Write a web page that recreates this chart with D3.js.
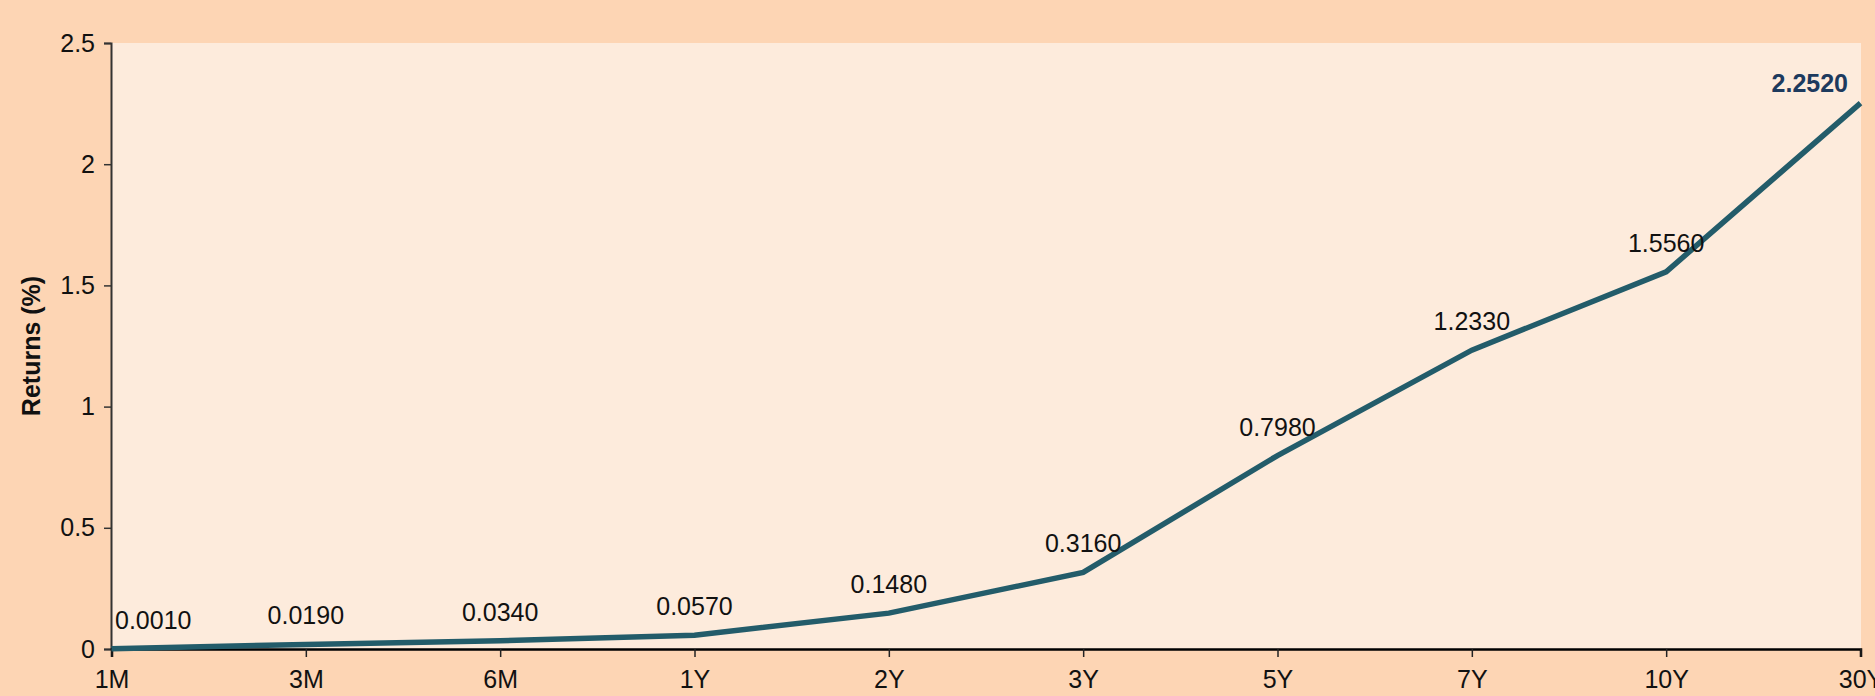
<!DOCTYPE html>
<html>
<head>
<meta charset="utf-8">
<script src="https://cdn.jsdelivr.net/npm/d3@7"></script>
<style>
  html, body { margin: 0; padding: 0; background: #fdd5b4; }
  svg { display: block; font-family: "Liberation Sans", Arial, sans-serif; }
</style>
</head>
<body>
<svg id="chart" width="1875" height="696"></svg>
<script>
// Yield curve: tenors and returns (%)
const tenors = ["1M", "3M", "6M", "1Y", "2Y", "3Y", "5Y", "7Y", "10Y", "30Y"];
const returns = [0.0010, 0.0190, 0.0340, 0.0570, 0.1480, 0.3160, 0.7980, 1.2330, 1.5560, 2.2520];
const yTicks = [0, 0.5, 1, 1.5, 2, 2.5];
const yTickLabels = ["0", "0.5", "1", "1.5", "2", "2.5"];
const yTitle = "Returns (%)";

const W = 1875, H = 696;
const margin = { top: 43, right: 14, bottom: 47, left: 111 };
const innerW = W - margin.left - margin.right;
const innerH = H - margin.top - margin.bottom;

const svg = d3.select("#chart");
svg.append("rect").attr("width", W).attr("height", H).attr("fill", "#fdd5b4");

const g = svg.append("g").attr("transform", `translate(${margin.left},${margin.top})`);

g.append("rect")
  .attr("width", innerW).attr("height", innerH)
  .attr("fill", "#fdebdc");

const x = d3.scalePoint().domain(tenors).range([0.5, innerW - 0.5]).padding(0);
const y = d3.scaleLinear().domain([0, 2.5]).range([innerH, 0]);

// Y axis
const yAxis = g.append("g")
  .call(d3.axisLeft(y).tickValues(yTicks)
    .tickFormat((d, i) => yTickLabels[i]).tickSizeOuter(0).tickSize(7).tickPadding(9));
yAxis.select(".domain").attr("stroke", "#333").attr("stroke-width", 2);
yAxis.selectAll(".tick line").attr("stroke", "#333").attr("stroke-width", 1.5);
yAxis.selectAll("text").attr("font-size", 25).attr("fill", "#111")
  .attr("font-family", "Liberation Sans, Arial, sans-serif");

// X axis
const xAxis = g.append("g")
  .attr("transform", `translate(0,${innerH})`)
  .call(d3.axisBottom(x).tickSizeOuter(0).tickSize(8).tickPadding(13));
xAxis.select(".domain").attr("stroke", "#000").attr("stroke-width", 2.5);
xAxis.selectAll(".tick line").attr("stroke", "#222").attr("stroke-width", 1.5);
xAxis.selectAll("text").attr("font-size", 25).attr("fill", "#111")
  .attr("font-family", "Liberation Sans, Arial, sans-serif");

// Axis title
svg.append("text")
  .attr("transform", `translate(40,${margin.top + innerH / 2}) rotate(-90)`)
  .attr("text-anchor", "middle")
  .attr("font-size", 25).attr("font-weight", "bold").attr("fill", "#111")
  .text(yTitle);

// Line
const line = d3.line()
  .x((d, i) => x(tenors[i]))
  .y(d => y(d));

g.append("path")
  .datum(returns)
  .attr("fill", "none")
  .attr("stroke", "#235c6a")
  .attr("stroke-width", 5.5)
  .attr("stroke-linejoin", "miter")
  .attr("d", line);

// Value labels, kept inside the plot area
const last = returns.length - 1;
const labels = g.append("g");
returns.forEach((v, i) => {
  const isLast = i === last;
  const t = labels.append("text")
    .attr("x", x(tenors[i]))
    .attr("y", y(v) - (isLast ? 11 : 20))
    .attr("text-anchor", "middle")
    .attr("font-size", 25)
    .attr("font-weight", isLast ? "bold" : "normal")
    .attr("fill", isLast ? "#1d3a5e" : "#111")
    .text(v.toFixed(4));
  const bb = t.node().getBBox();
  const minX = 4, maxX = innerW - 13;
  if (bb.x < minX) t.attr("x", x(tenors[i]) + (minX - bb.x));
  else if (bb.x + bb.width > maxX) t.attr("x", x(tenors[i]) - (bb.x + bb.width - maxX));
});
</script>
</body>
</html>
